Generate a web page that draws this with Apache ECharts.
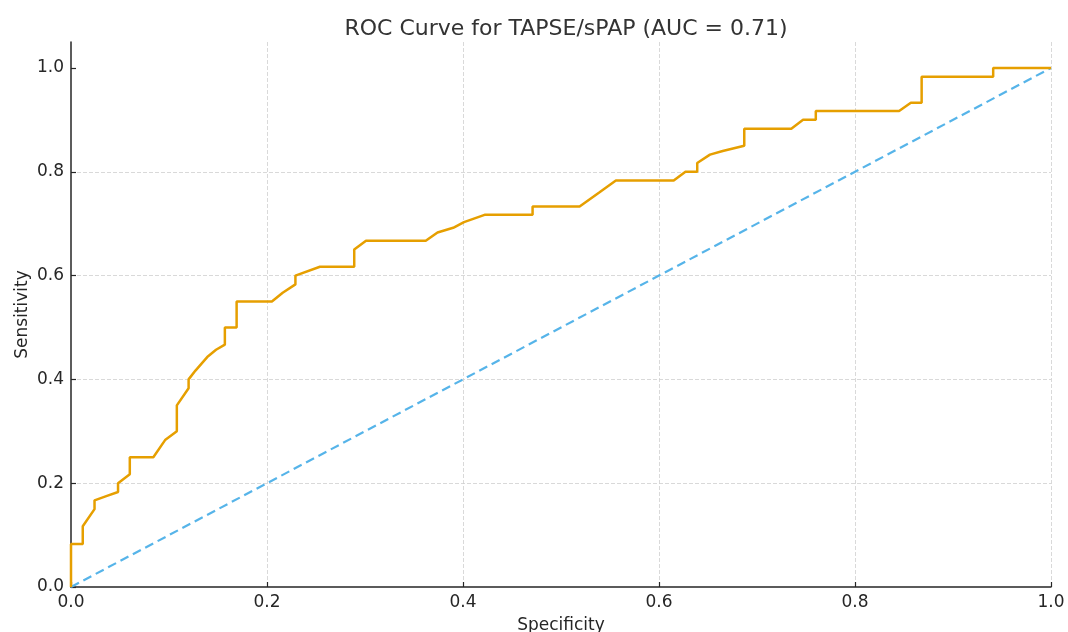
<!DOCTYPE html>
<html>
<head>
<meta charset="utf-8">
<script src="https://cdn.jsdelivr.net/npm/echarts@6/dist/echarts.min.js"></script>
<style>
html,body{margin:0;padding:0;background:#fff;}
#c{width:1068px;height:632px;}
</style>
</head>
<body>
<div id="c"></div>
<script>
// Specificity axis values (as plotted on x) and Sensitivity values of the ROC curve
const rocX = [0, 0, 0.012, 0.012, 0.024, 0.024, 0.036, 0.048, 0.048, 0.060, 0.060, 0.084, 0.096, 0.108, 0.108, 0.120, 0.120, 0.127, 0.139, 0.148, 0.157, 0.157, 0.169, 0.169, 0.205, 0.216, 0.229, 0.229, 0.254, 0.289, 0.289, 0.301, 0.362, 0.374, 0.390, 0.401, 0.422, 0.471, 0.471, 0.519, 0.539, 0.556, 0.615, 0.627, 0.639, 0.639, 0.652, 0.665, 0.687, 0.687, 0.735, 0.747, 0.760, 0.760, 0.845, 0.857, 0.868, 0.868, 0.941, 0.941, 1.0];
const rocY = [0, 0.083, 0.083, 0.117, 0.150, 0.167, 0.175, 0.183, 0.200, 0.217, 0.250, 0.250, 0.283, 0.300, 0.350, 0.383, 0.400, 0.417, 0.443, 0.457, 0.467, 0.500, 0.500, 0.550, 0.550, 0.567, 0.583, 0.600, 0.617, 0.617, 0.650, 0.667, 0.667, 0.683, 0.692, 0.703, 0.717, 0.717, 0.733, 0.733, 0.760, 0.783, 0.783, 0.800, 0.800, 0.817, 0.833, 0.840, 0.850, 0.883, 0.883, 0.900, 0.900, 0.917, 0.917, 0.933, 0.933, 0.983, 0.983, 1.0, 1.0];
const chanceX = [0, 1];
const chanceY = [0, 1];
const tickValues = [0, 0.2, 0.4, 0.6, 0.8, 1.0];
const titleText = 'ROC Curve for TAPSE/sPAP (AUC = 0.71)';
const xName = 'Specificity';
const yName = 'Sensitivity';

const font = 'DejaVu Sans';
const textColor = '#262626';
const chart = echarts.init(document.getElementById('c'), null, {renderer: 'canvas'});

const axisCommon = {
  type: 'value',
  nameLocation: 'middle',
  nameMoveOverlap: false,
  nameTextStyle: {fontFamily: font, fontSize: 17, color: textColor},
  axisLine: {show: true, onZero: false, lineStyle: {color: '#262626', width: 1.5}},
  axisTick: {show: true, inside: true, length: 5, lineStyle: {color: '#262626', width: 1.2}, customValues: tickValues},
  axisLabel: {fontFamily: font, fontSize: 17, color: textColor, margin: 7, customValues: tickValues, formatter: v => v.toFixed(1)},
  splitLine: {show: true, showMinLine: false, showMaxLine: false, lineStyle: {color: '#cfcfcf', width: 0.8, type: [4, 2]}}
};

chart.setOption({
  backgroundColor: '#fff',
  animation: false,
  title: {
    text: titleText,
    left: 561, top: 13, textAlign: 'center',
    textStyle: {fontFamily: font, fontSize: 22, fontWeight: 'normal', color: '#333'}
  },
  grid: {left: 71, right: 17, top: 42, bottom: 45, containLabel: false, outerBoundsMode: 'none'},
  xAxis: Object.assign({}, axisCommon, {
    name: xName, nameGap: 30, min: 0, max: 1, interval: 0.2,
    splitLine: Object.assign({}, axisCommon.splitLine, {showMaxLine: true})
  }),
  yAxis: Object.assign({}, axisCommon, {
    name: yName, nameGap: 40, nameRotate: 90, min: 0, max: 1.05, interval: 0.2
  }),
  series: [
    {
      type: 'line',
      data: chanceX.map((x, i) => [x, chanceY[i]]),
      showSymbol: false,
      lineStyle: {color: '#56B4E9', width: 2.2, type: [9, 5]},
      z: 2
    },
    {
      type: 'line',
      data: rocX.map((x, i) => [x, rocY[i]]),
      showSymbol: false,
      lineStyle: {color: '#E69F00', width: 2.5},
      z: 3
    }
  ]
});
</script>
</body>
</html>
